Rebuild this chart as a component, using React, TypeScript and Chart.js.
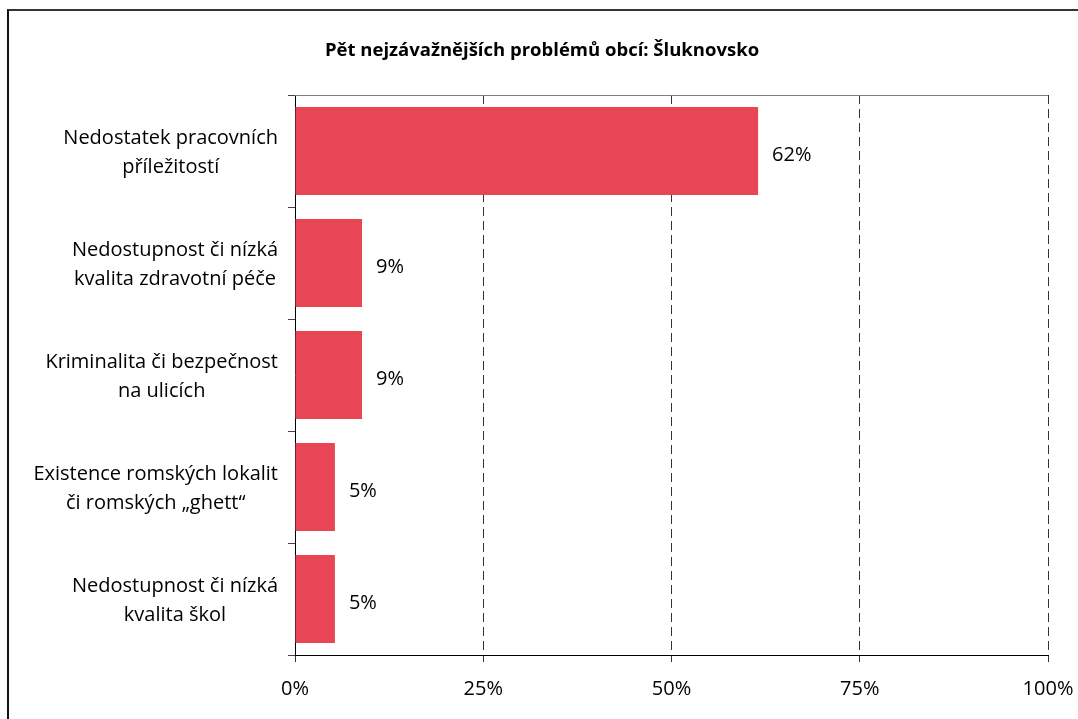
import React, { useEffect, useRef } from "react";
import { Chart, registerables } from "chart.js";

Chart.register(...registerables);

const TITLE = "Pět nejzávažnějších problémů obcí: Šluknovsko";
const categories: string[][] = [
  ["Nedostatek pracovních", "příležitostí"],
  ["Nedostupnost či nízká", "kvalita zdravotní péče"],
  ["Kriminalita či bezpečnost", "na ulicích"],
  ["Existence romských lokalit", "či romských „ghett“"],
  ["Nedostupnost či nízká", "kvalita škol"],
];
const values: number[] = [61.5, 8.9, 8.9, 5.3, 5.3];
const xTicks: number[] = [0, 25, 50, 75, 100];

const FONT = "'Open Sans', 'Noto Sans', sans-serif";
const BAR_COLOR = "#E84655";

const overlayPlugin = {
  id: "overlay",
  afterDatasetsDraw(chart: any) {
    const ctx = chart.ctx;
    const meta = chart.getDatasetMeta(0);
    ctx.save();
    ctx.fillStyle = "#000";
    ctx.font = `20px ${FONT}`;
    ctx.textAlign = "left";
    ctx.textBaseline = "middle";
    meta.data.forEach((bar: any, i: number) => {
      ctx.fillText(Math.round(values[i]) + "%", bar.x + 14, bar.y + 4);
    });
    ctx.restore();
  },
  afterDraw(chart: any) {
    const ctx = chart.ctx;
    const area = chart.chartArea;
    const yScale = chart.scales.y;
    ctx.save();
    // top border of plot area
    ctx.strokeStyle = "#808080";
    ctx.lineWidth = 1;
    ctx.beginPath();
    ctx.moveTo(area.left, Math.round(area.top) + 0.5);
    ctx.lineTo(area.right, Math.round(area.top) + 0.5);
    ctx.stroke();

    // title
    ctx.fillStyle = "#000";
    ctx.font = `bold 18.5px ${FONT}`;
    ctx.textAlign = "center";
    ctx.textBaseline = "middle";
    ctx.fillText(TITLE, 542, 51);

    // category labels: right-aligned blocks with centered lines
    ctx.font = `20px ${FONT}`;
    const lineH = 29;
    const rightEdge = area.left - 17;
    categories.forEach((lines, i) => {
      const y = yScale.getPixelForValue(i);
      const w = Math.max(...lines.map((l) => ctx.measureText(l).width));
      const cx = rightEdge - w / 2;
      const startY = y + 2 - ((lines.length - 1) * lineH) / 2;
      lines.forEach((l, j) => {
        ctx.fillText(l, cx, startY + j * lineH);
      });
    });
    ctx.restore();
  },
};

export default function App() {
  const ref = useRef<HTMLCanvasElement | null>(null);
  useEffect(() => {
    if (!ref.current) return;
    const chart = new Chart(ref.current, {
      type: "bar",
      data: {
        labels: categories.map((c) => c.join(" ")),
        datasets: [
          {
            data: values,
            backgroundColor: BAR_COLOR,
            borderWidth: 0,
            categoryPercentage: 1,
            barPercentage: 0.786,
          },
        ],
      },
      options: {
        indexAxis: "y",
        animation: false,
        responsive: false,
        maintainAspectRatio: false,
        layout: { padding: { top: 95, right: 30, bottom: 0, left: 0 } },
        plugins: {
          legend: { display: false },
          title: { display: false },
          tooltip: { enabled: false },
        },
        scales: {
          x: {
            type: "linear",
            position: "bottom",
            min: 0,
            max: 100,
            afterFit: (s: any) => {
              s.height = 64;
              s.paddingLeft = 0;
              s.paddingRight = 0;
            },
            afterBuildTicks: (s: any) => {
              s.ticks = xTicks.map((v) => ({ value: v }));
            },
            ticks: {
              callback: (v: any) => v + "%",
              font: { family: FONT, size: 20 },
              color: "#000",
              padding: 15,
              maxRotation: 0,
              autoSkip: false,
            },
            grid: {
              color: (c: any) => (c.tick && c.tick.value === 0 ? "rgba(0,0,0,0)" : "#333"),
              tickColor: "#333",
              lineWidth: 1,
              tickLength: 7,
              drawTicks: true,
            },
            border: { display: true, color: "#000", width: 1, dash: [9, 5] },
          },
          y: {
            type: "category",
            afterFit: (s: any) => {
              s.width = 295;
              s.paddingTop = 0;
              s.paddingBottom = 0;
            },
            ticks: { display: false },
            grid: {
              offset: true,
              drawOnChartArea: false,
              drawTicks: true,
              tickLength: 7,
              color: "#444",
              tickColor: "#444",
            },
            border: { display: true, color: "#000", width: 1 },
          },
        },
      },
      plugins: [overlayPlugin],
    } as any);
    return () => chart.destroy();
  }, []);

  return (
    <div
      style={{
        position: "fixed",
        left: 0,
        top: 0,
        width: 1078,
        height: 719,
        overflow: "hidden",
        background: "#fff",
      }}
    >
      <canvas
        ref={ref}
        width={1078}
        height={719}
        style={{ position: "absolute", left: 0, top: 0, width: 1078, height: 719 }}
      />
      <div
        style={{
          position: "absolute",
          left: 7,
          top: 9,
          width: 2000,
          height: 2000,
          borderTop: "2px solid #333",
          borderLeft: "2px solid #111",
          pointerEvents: "none",
        }}
      />
    </div>
  );
}
